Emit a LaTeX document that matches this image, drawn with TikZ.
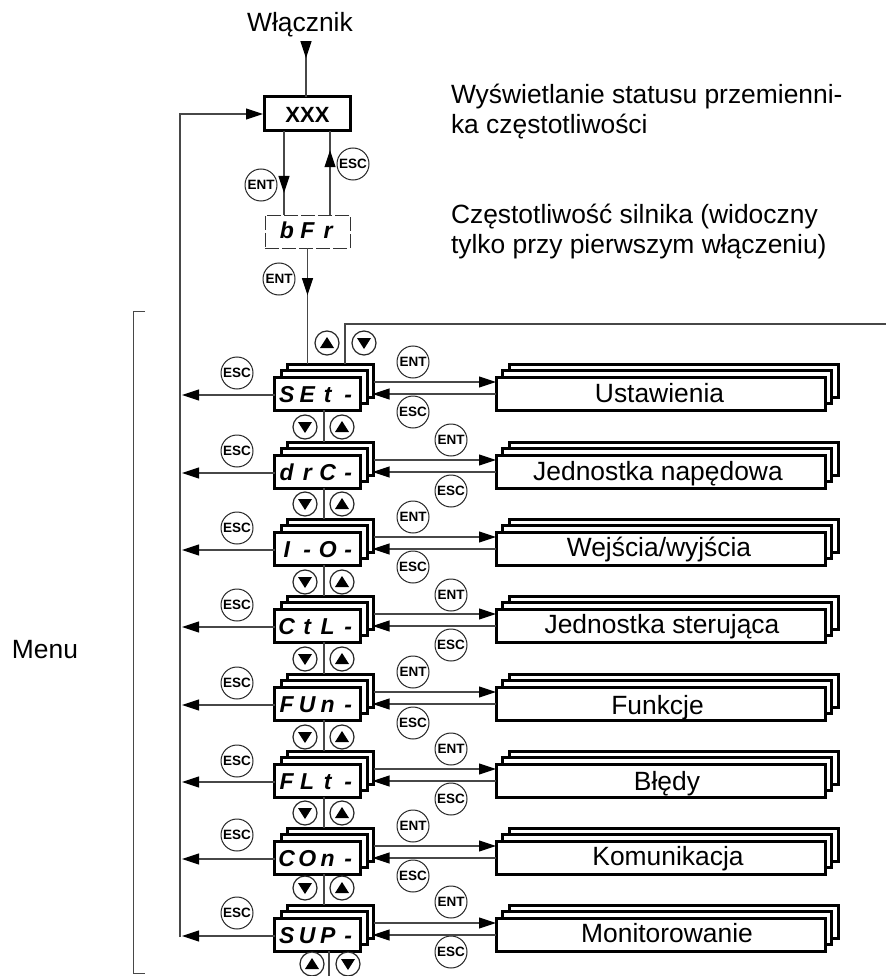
\documentclass[tikz,border=0pt]{standalone}
\usepackage{fontspec}
\setmainfont{Liberation Sans}
\usetikzlibrary{arrows.meta,decorations.markings,calc}
\newcommand{\sz}[1]{\fontsize{#1}{30pt}\selectfont}
\newcommand{\sg}[1]{\makebox[20.5pt][c]{#1}}
\tikzset{
  Tri/.tip={Triangle[length=17pt,width=11pt,black]},
  conn/.style={line width=1.1pt,draw=black!72},
  midarrow/.style={postaction={decorate},decoration={markings,mark=at position #1 with {\arrow{Tri}}}},
  bframe/.style={draw=black,fill=white,line width=3pt,inner sep=0pt,outer sep=0pt,minimum height=33pt},
  menubox/.style={bframe,minimum width=86pt},
  resbox/.style={bframe,minimum width=329pt},
  seg/.style={font=\bfseries\itshape\sz{23}},
  txt/.style={font=\sz{26.4},inner sep=0pt,outer sep=0pt},
  keybtn/.style={circle,draw=black!85,line width=1pt,fill=white,inner sep=0pt,minimum size=32pt,font=\bfseries\sz{13.5}},
  arrbtn/.style={circle,draw=black!85,line width=1.2pt,fill=white,inner sep=0pt,minimum size=24pt},
  brk/.style={line width=1pt,draw=black!72},
}
\newcommand{\upbtn}[3]{\node[arrbtn] (#1) at (#2,#3) {};\fill[black] ([shift={(-7,5)}]#1.center) -- ([shift={(7,5)}]#1.center) -- ([shift={(0,-6)}]#1.center) -- cycle;}
\newcommand{\dnbtn}[3]{\node[arrbtn] (#1) at (#2,#3) {};\fill[black] ([shift={(-7,-5)}]#1.center) -- ([shift={(7,-5)}]#1.center) -- ([shift={(0,6)}]#1.center) -- cycle;}
\begin{document}
\begin{tikzpicture}[x=1pt,y=-1pt]
\useasboundingbox (0,0) rectangle (886,976);
\fill[white] (0,0) rectangle (886,976);
% top part
\node[txt,anchor=base] (lon) at (300,32) {Włącznik};
\coordinate (on) at (306,43);
\node[bframe,minimum width=86pt,minimum height=34pt,text height=18pt,text depth=0pt,font=\bfseries\sz{22}] (xxx) at (307.5,114) {XXX};
\node[draw=black!80,dash pattern=on 14pt off 3pt,line width=.9pt,inner sep=0pt,minimum width=85pt,minimum height=33pt,text height=13pt,text depth=0pt,seg] (bfr) at (307.5,231.5) {\sg{b}\sg{F}\sg{r}};
\node[txt,anchor=north west,align=left] (t1) at (451,84.5) {Wyświetlanie statusu przemienni-\\ka częstotliwości};
\node[txt,anchor=north west,align=left] (t2) at (451,204) {Częstotliwość silnika (widoczny\\tylko przy pierwszym włączeniu)};
\node[txt,anchor=base west] (menu) at (12,658) {Menu};
\node[keybtn] (e1) at (261,185) {ENT};
\node[keybtn] (e2) at (353,164) {ESC};
\node[keybtn] (e3) at (279,279) {ENT};
\draw[conn,midarrow=0.28] (on) -- (on |- xxx.north);
\draw[conn,midarrow=0.74] ([xshift=-23.5pt]xxx.south) -- ([xshift=-23.5pt]xxx.south |- bfr.north);
\draw[conn,midarrow=0.77] ([xshift=22.5pt]xxx.south |- bfr.north) -- ([xshift=22.5pt]xxx.south);
\coordinate (bus) at (180,937);
\draw[conn,-Tri,shorten >=1.5pt] (bus) |- (xxx.west);
% bracket
\coordinate (bt) at (145,311);
\coordinate (bb) at (145,973);
\draw[brk] (bt) -- (133,311) -- (133,973) -- (bb);
% rows
\foreach \i/\tp/\la/\lb/\lc/\ld/\txtv/\dy/\dx/\lesc/\rx/\ent/\resc in {
 1/377/S/E/t/-/{Ustawienia}/8.5/-1/373/413/362/412,
 2/455/d/r/C/-/{Jednostka napędowa}/8.5/-2.5/451/451/440/491,
 3/532/I/-/O/-/{Wejścia/wyjścia}/7.5/-1.5/528/413/517/567,
 4/609/C/t/L/-/{Jednostka sterująca}/7.5/1.5/605/451/595/645,
 5/687/F/U/n/-/{Funkcje}/10.5/-3/683/413/672/723,
 6/764/F/L/t/-/{Błędy}/9.5/6.5/761/451/749/799,
 7/841/C/O/n/-/{Komunikacja}/7.5/7.5/835/413/826/876,
 8/918/S/U/P/-/{Monitorowanie}/7.5/6.5/913/451/902/952}
{
  \node[menubox] (ma\i) at (330.5,\tp+3.5) {};
  \node[menubox] (mb\i) at (324,\tp+10) {};
  \node[menubox,seg,text height=17pt,text depth=0pt] (m\i) at (317.5,\tp+16.5) {\sg{\la}\sg{\lb}\sg{\lc}\sg{\ld}};
  \node[resbox] (ra\i) at (673.5,\tp+3.5) {};
  \node[resbox] (rb\i) at (667,\tp+10) {};
  \pgfmathsetmacro{\th}{2*\dy}
  \node[resbox,font=\sz{26.4},text height=\th pt,text depth=0pt] (r\i) at (660.5,\tp+16.5) {\kern\dx pt\kern\dx pt\txtv};
  \node[keybtn] (le\i) at (237,\lesc) {ESC};
  \node[keybtn] (en\i) at (\rx,\ent) {ENT};
  \node[keybtn] (es\i) at (\rx,\resc) {ESC};
  \draw[conn,-Tri,shorten >=2pt] ([yshift=-1.5pt]m\i.west) -- ([yshift=-1.5pt]m\i.west -| bus);
  \draw[conn,-Tri] ([yshift=-1.5pt]ma\i.east) -- ([yshift=-1.5pt]ma\i.east -| r\i.west);
  \draw[conn,-Tri,shorten >=-1pt] ([yshift=-.5pt]r\i.west) -- ([yshift=-.5pt]r\i.west -| ma\i.east);
}
\foreach \i/\j/\by in {1/2/427,2/3/504,3/4/582,4/5/659,5/6/737,6/7/813,7/8/888}
{
  \dnbtn{bd\i}{305}{\by}
  \upbtn{bu\i}{342}{\by}
  \draw[conn] ([xshift=6.5pt]m\i.south) -- ([xshift=6.5pt]m\i.south |- ma\j.north);
}
% entry to and exit from first menu
\draw[conn,midarrow=0.405] (bfr.south) -- (bfr.south |- ma1.north);
\coordinate (rgt) at (886,324);
\draw[conn] ([xshift=14.5pt]ma1.north) |- (rgt);
\upbtn{tu}{327}{343}
\dnbtn{td}{364}{343}
% exit from last menu
\coordinate (lastend) at (329,976);
\draw[conn] (m8.south -| lastend) -- (lastend);
\upbtn{lu}{312}{964}
\dnbtn{ld}{348}{964}
\end{tikzpicture}
\end{document}
